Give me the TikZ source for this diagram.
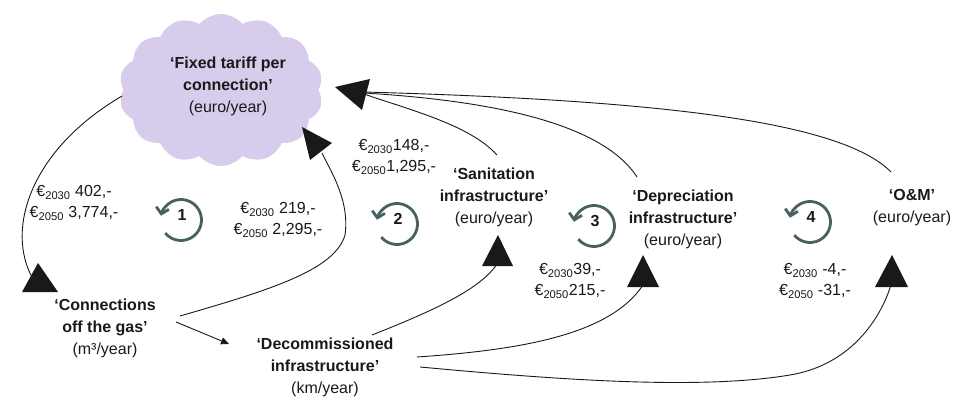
\documentclass[tikz,border=0pt]{standalone}
\usepackage{fontspec}
\setmainfont{Liberation Sans}
\usetikzlibrary{shapes.symbols,arrows.meta,calc}
\definecolor{cloudc}{RGB}{216,204,236}
\definecolor{loopc}{RGB}{72,96,96}
\definecolor{ink}{RGB}{25,25,25}
\begin{document}
\begin{tikzpicture}[x=1pt,y=-1pt,
  every node/.style={inner sep=0pt, outer sep=0pt, text=ink},
  var/.style={align=center, font=\fontsize{16}{22}\selectfont},
  val/.style={align=center, font=\fontsize{16}{21}\selectfont},
  link/.style={draw=ink, line width=0.9pt},
  head/.style={fill=ink},
  loopic/.style={draw=loopc, line width=2.8pt, -{Straight Barb[length=6pt,width=13pt]}},
  loopnum/.style={font=\fontsize{16}{16}\selectfont\bfseries}]
\useasboundingbox (0,0) rectangle (962,401);

% cloud
\node[cloud, cloud puffs=14, cloud puff arc=100, cloud ignores aspect,
      minimum width=204pt, minimum height=152pt, fill=cloudc] (tariff) at (221,90) {};
\node[var] (tarifftext) at (228,86) {{\bfseries ‘Fixed tariff per}\\{\bfseries connection’}\\(euro/year)};

% variables
\node[var] (conn) at (105,328) {{\bfseries ‘Connections}\\{\bfseries off the gas’}\\(m³/year)};
\node[var] (decom) at (325,367) {{\bfseries ‘Decommissioned}\\{\bfseries infrastructure’}\\(km/year)};
\node[var] (sanit) at (494,197) {{\bfseries ‘Sanitation}\\{\bfseries infrastructure’}\\(euro/year)};
\node[var] (depr) at (683,219) {{\bfseries ‘Depreciation}\\{\bfseries infrastructure’}\\(euro/year)};
\node[var] (om) at (912,208) {{\bfseries ‘O\&M’}\\(euro/year)};

% values
\node[val] (v1) at (74,203) {€\textsubscript{2030} 402,-\\€\textsubscript{2050} 3,774,-};
\node[val] (v2) at (278,220) {€\textsubscript{2030} 219,-\\€\textsubscript{2050} 2,295,-};
\node[val] (v3) at (394,157) {€\textsubscript{2030}148,-\\€\textsubscript{2050}1,295,-};
\node[val] (v4) at (570,281) {€\textsubscript{2030}39,-\\€\textsubscript{2050}215,-};
\node[val] (v5) at (815,281) {€\textsubscript{2030} -4,-\\€\textsubscript{2050} -31,-};

% connector end points
\coordinate (a1) at (122,96);   \coordinate (b1) at (33,279);
\coordinate (a2) at (180,316);  \coordinate (b2) at (322,153);
\coordinate (a3) at (176,322);  \coordinate (b3) at (229,344);
\coordinate (a4) at (372,335);  \coordinate (b4) at (497,264);
\coordinate (a5) at (417,357);  \coordinate (b5) at (643,285);
\coordinate (a6) at (420,367);  \coordinate (b6) at (891,285);
\coordinate (a7) at (497,155);  \coordinate (b7) at (364,94);
\coordinate (a8) at (637,177);  \coordinate (b8) at (364,93);
\coordinate (a9) at (891,172);  \coordinate (b9) at (364,92);

% connectors
\draw[link] (a1) .. controls (30,150) and (5,230) .. (b1);
\draw[link] (a2) .. controls (270,290) and (335,270) .. (345,235) .. controls (350,200) and (330,170) .. (b2);
\draw[link, -{Triangle[length=8pt,width=7pt]}] (a3) -- (b3);
\draw[link] (a4) .. controls (430,312) and (480,290) .. (b4);
\draw[link] (a5) .. controls (520,350) and (610,335) .. (b5);
\draw[link] (a6) .. controls (560,380) and (700,390) .. (790,375) .. controls (850,365) and (880,320) .. (b6);
\draw[link] (a7) .. controls (470,125) and (410,110) .. (b7);
\draw[link] (a8) .. controls (600,120) and (480,100) .. (b8);
\draw[link] (a9) .. controls (840,120) and (650,100) .. (b9);

% big arrow heads
\fill[head] (38,263) -- (22,292) -- (58,292) -- cycle;
\fill[head] (302,127) -- (332,143) -- (310,160) -- cycle;
\fill[head] (335,87) -- (370,79) -- (362,110) -- cycle;
\fill[head] (498,235) -- (482,266) -- (513,266) -- cycle;
\fill[head] (643,255) -- (627,287) -- (659,287) -- cycle;
\fill[head] (892,255) -- (875,287) -- (908,287) -- cycle;

% loop icons
\foreach \n/\cx/\cy in {1/181/220, 2/397/224, 3/594/226, 4/810/222} {
  \draw[loopic] ($(\cx,\cy)+(140:20.5)$) arc[start angle=140, end angle=-168, radius=20.5];
  \node[loopnum] (loop\n) at (\cx+1,\cy-5) {\n};
}
\end{tikzpicture}
\end{document}
